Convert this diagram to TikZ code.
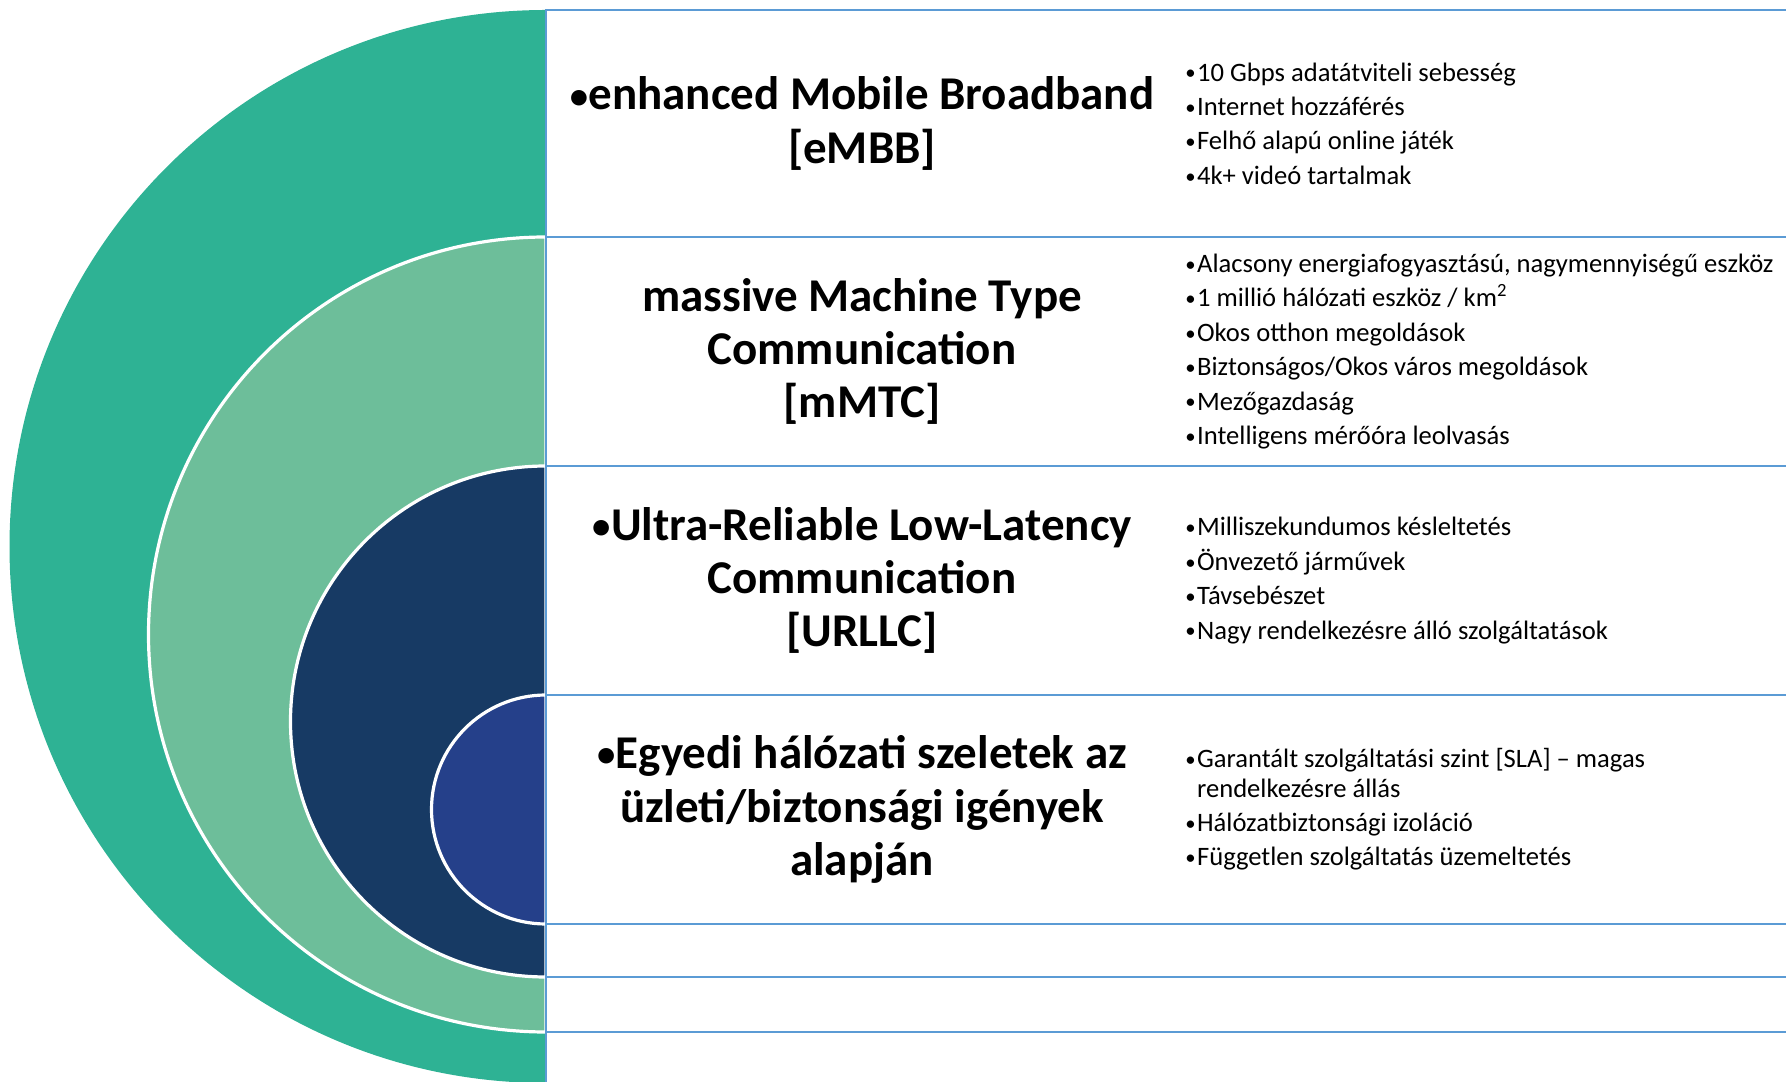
\documentclass[tikz,border=0pt]{standalone}
\usepackage{graphicx}
\usepackage{fontspec}
\setmainfont{Carlito}
\definecolor{ringA}{HTML}{2EB294}
\definecolor{ringB}{HTML}{6DBE9A}
\definecolor{ringC}{HTML}{173A64}
\definecolor{ringD}{HTML}{25408A}
\definecolor{rowline}{HTML}{5B9BD5}
% small bullet in a box of the given width
\newcommand{\dotmark}[1]{\makebox[#1][l]{\raisebox{0.04em}{\scalebox{0.78}{•}}}}
\newcommand{\tdot}{\dotmark{0.4em}}
\newcommand{\ldot}{\dotmark{0.44em}}
\tikzset{
  ring/.style={draw=white, line width=1.6pt},
  rowbox/.style={draw=rowline, fill=white, line width=1.2pt},
  title/.style={inner sep=0pt, align=center, font=\fontsize{23.5}{26.6}\selectfont\bfseries},
  items/.style={inner sep=0pt, anchor=west, align=left, font=\fontsize{13.3}{17.2}\selectfont},
}
\begin{document}
\begin{tikzpicture}[x=0.5pt,y=0.5pt]
\useasboundingbox (0,0) rectangle (1786,1081);
\clip (0,0) rectangle (1786,1081);

% nested half discs, outermost first
\fill[ringA] (546,1071) arc[start angle=90, end angle=270, radius=268.25pt] -- cycle;
\filldraw[ring, fill=ringB] (546,844) arc[start angle=90, end angle=270, radius=198.75pt] -- cycle;
\filldraw[ring, fill=ringC] (546,615) arc[start angle=90, end angle=270, radius=127.75pt] -- cycle;
\filldraw[ring, fill=ringD] (546,386) arc[start angle=90, end angle=270, radius=57.25pt] -- cycle;

% row frames
\draw[rowbox] (546,1071) rectangle (1830,844);
\draw[rowbox] (546,844) rectangle (1830,615);
\draw[rowbox] (546,615) rectangle (1830,386);
\draw[rowbox] (546,386) rectangle (1830,157);
\draw[rowbox] (546,157) rectangle (1830,104);
\draw[rowbox] (546,104) rectangle (1830,49);
\draw[rowbox] (546,49) rectangle (1830,-40);

% row titles
\node[title] (t1) at (862,957.5) {\tdot enhanced Mobile Broadband\\{}[eMBB]};
\node[title] (t2) at (862,729.5) {massive Machine Type\\Communication\\{}[mMTC]};
\node[title] (t3) at (862,500.5) {\tdot Ultra-Reliable Low-Latency\\Communication\\{}[URLLC]};
\node[title] (t4) at (862,271.5) {\tdot Egyedi hálózati szeletek az\\üzleti/biztonsági igények\\alapján};

% bullet lists
\node[items] (l1) at (1185,957.5) {\ldot 10 Gbps adatátviteli sebesség\\\ldot Internet hozzáférés\\\ldot Felhő alapú online játék\\\ldot 4k+ videó tartalmak};
\node[items] (l2) at (1185,729.5) {\ldot Alacsony energiafogyasztású, nagymennyiségű eszköz\\\ldot 1 millió hálózati eszköz / km\textsuperscript{2}\\\ldot Okos otthon megoldások\\\ldot Biztonságos/Okos város megoldások\\\ldot Mezőgazdaság\\\ldot Intelligens mérőóra leolvasás};
\node[items] (l3) at (1185,500.5) {\ldot Milliszekundumos késleltetés\\\ldot Önvezető járművek\\\ldot Távsebészet\\\ldot Nagy rendelkezésre álló szolgáltatások};
\node[items, font=\fontsize{13.3}{14.6}\selectfont] (l4) at (1185,271.5) {\ldot Garantált szolgáltatási szint [SLA] – magas\\\hspace*{0.44em}rendelkezésre állás\\[2.6pt]\ldot Hálózatbiztonsági izoláció\\[2.6pt]\ldot Független szolgáltatás üzemeltetés};
\end{tikzpicture}
\end{document}
